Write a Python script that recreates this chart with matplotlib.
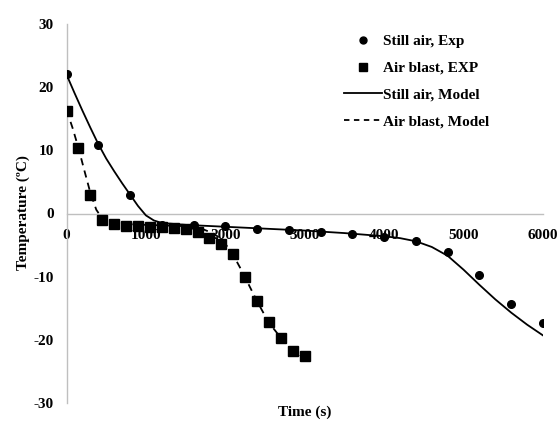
import matplotlib
matplotlib.use("Agg")
import matplotlib.pyplot as plt
from matplotlib.lines import Line2D

plt.rcParams['font.family'] = ['Liberation Serif', 'DejaVu Serif']
plt.rcParams['font.weight'] = 'bold'
plt.rcParams['axes.unicode_minus'] = False

# Still air, experiment
still_t = [0, 400, 800, 1200, 1600, 2000, 2400, 2800, 3200, 3600, 4000, 4400, 4800, 5200, 5600, 6000]
still_T = [22.1, 10.9, 3.0, -1.8, -1.85, -2.0, -2.5, -2.6, -3.0, -3.3, -3.75, -4.4, -6.1, -9.75, -14.3, -17.3]

# Air blast, experiment
blast_t = [0, 150, 300, 450, 600, 750, 900, 1050, 1200, 1350, 1500, 1650, 1800, 1950,
           2100, 2250, 2400, 2550, 2700, 2850, 3000]
blast_T = [16.3, 10.4, 3.0, -0.95, -1.7, -1.95, -2.0, -2.1, -2.15, -2.3, -2.5, -2.9, -3.85, -4.9,
           -6.4, -10.1, -13.9, -17.2, -19.7, -21.7, -22.5]

# Still air, model
still_model_t = [0, 100, 200, 300, 400, 500, 600, 700, 800, 900, 1000, 1100, 1200, 1500, 2000, 2500,
                 3000, 3500, 4000, 4200, 4400, 4600, 4800, 5000, 5200, 5400, 5600, 5800, 6000]
still_model_T = [22.0, 19.1, 16.3, 13.6, 11.0, 8.7, 6.7, 4.8, 3.0, 1.2, -0.3, -1.1, -1.5, -1.8, -2.1, -2.4,
                 -2.7, -3.1, -3.6, -3.9, -4.4, -5.3, -6.7, -8.9, -11.3, -13.6, -15.7, -17.6, -19.3]

# Air blast, model
blast_model_t = [0, 75, 150, 225, 300, 375, 450, 525, 600, 800, 1000, 1500, 1700, 1800, 1900, 2000,
                 2100, 2200, 2300, 2400, 2500, 2600, 2700, 2800, 2900, 3000]
blast_model_T = [16.4, 13.6, 10.4, 6.8, 3.3, 0.6, -0.8, -1.3, -1.5, -1.7, -1.8, -2.0, -2.4, -2.9, -3.6, -4.8,
                 -6.6, -8.9, -11.4, -13.9, -16.2, -18.1, -19.7, -21.0, -22.1, -22.9]

x_ticks = [0, 1000, 2000, 3000, 4000, 5000, 6000]
y_ticks = [-30, -20, -10, 0, 10, 20, 30]

fig = plt.figure(figsize=(5.6, 4.22), dpi=100)
ax = fig.add_axes([66.5 / 560, 1 - 403 / 422, (543 - 66.5) / 560, (403 - 24) / 422])

ax.plot(still_model_t, still_model_T, color='black', lw=1.3, zorder=3)
ax.plot(blast_model_t, blast_model_T, color='black', lw=1.3, ls=(0, (4, 3)), zorder=3)
ax.plot(still_t, still_T, 'o', color='black', ms=5.5, zorder=4)
ax.plot(blast_t, blast_T, 's', color='black', ms=6.5, zorder=4)

ax.set_xlim(0, 6000)
ax.set_ylim(-30, 30)
ax.set_xticks(x_ticks)
ax.set_yticks(y_ticks)
ax.set_xticklabels([str(v) for v in x_ticks])
ax.set_yticklabels([str(v) for v in y_ticks])

for s in ['top', 'right']:
    ax.spines[s].set_visible(False)
ax.spines['bottom'].set_position(('data', 0))
ax.spines['bottom'].set_color('#bfbfbf')
ax.spines['left'].set_color('#bfbfbf')
ax.spines['bottom'].set_linewidth(1.0)
ax.spines['left'].set_linewidth(1.0)
ax.tick_params(axis='both', length=0, labelsize=11)
ax.tick_params(axis='x', pad=11)
ax.tick_params(axis='y', pad=9)
for lab in ax.get_xticklabels() + ax.get_yticklabels():
    lab.set_fontweight('bold')

fig.text(305 / 560, 1 - 412 / 422, 'Time (s)', ha='center', va='center', fontsize=11, fontweight='bold')
fig.text(23 / 560, 1 - 213 / 422, 'Temperature (ºC)', ha='center', va='center', rotation=90,
         fontsize=11, fontweight='bold')

handles = [
    Line2D([], [], ls='none', marker='o', color='black', ms=5),
    Line2D([], [], ls='none', marker='s', color='black', ms=5.5),
    Line2D([], [], color='black', lw=1.3),
    Line2D([], [], color='black', lw=1.3, ls=(0, (3, 2.5))),
]
labels = ['Still air, Exp', 'Air blast, EXP', 'Still air, Model', 'Air blast, Model']
leg = fig.legend(handles, labels, loc='upper left', bbox_to_anchor=(330 / 560, 1 - 21 / 422),
                 frameon=False, handlelength=2.5, handletextpad=0.1,
                 labelspacing=0.84, prop={'weight': 'bold', 'size': 11})

fig.savefig('out.png', dpi=100)
